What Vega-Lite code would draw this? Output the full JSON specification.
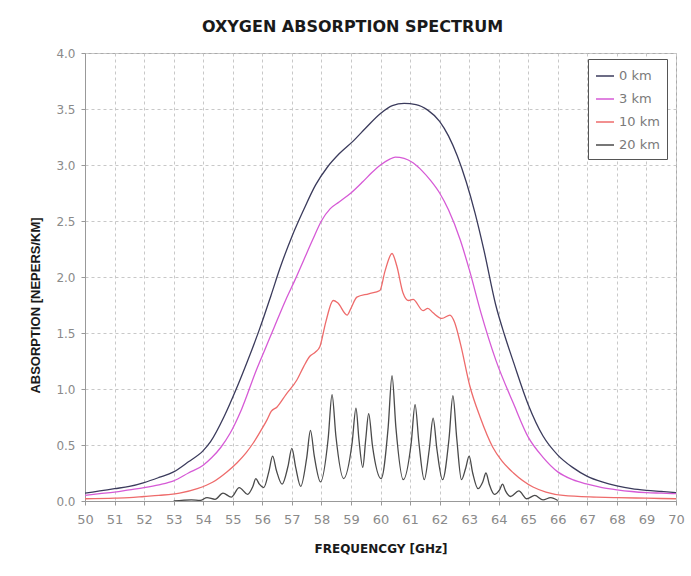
{
  "$schema": "https://vega.github.io/schema/vega-lite/v6.json",
  "width": 591,
  "height": 448,
  "autosize": {"type": "none"},
  "padding": {"left": 85, "top": 53, "right": 15, "bottom": 75},
  "background": "white",
  "title": {
    "text": "OXYGEN ABSORPTION SPECTRUM",
    "font": "DejaVu Sans",
    "fontSize": 16,
    "fontWeight": "bold",
    "color": "#1a1a1a",
    "anchor": "middle",
    "baseline": "alphabetic",
    "offset": 20,
    "dx": -28,
    "dy": 21
  },
  "config": {
    "view": {"stroke": "#aaaaaa", "strokeWidth": 1},
    "axis": {
      "gridColor": "#c8c8c8",
      "gridDash": [3, 3],
      "gridWidth": 1,
      "domainColor": "#999999",
      "tickColor": "#999999",
      "tickSize": 4,
      "labelColor": "#8a8a8a",
      "labelFont": "DejaVu Sans",
      "labelFontSize": 12,
      "labelFlush": false,
      "titleFont": "DejaVu Sans",
      "titleFontSize": 12,
      "titleFontWeight": "bold",
      "titleColor": "#1a1a1a"
    }
  },
  "data": {
    "values": [
      {"s": "0 km", "f": 50.0, "v": 0.07},
      {"s": "0 km", "f": 50.5, "v": 0.09},
      {"s": "0 km", "f": 51.0, "v": 0.11},
      {"s": "0 km", "f": 51.5, "v": 0.13},
      {"s": "0 km", "f": 52.0, "v": 0.165},
      {"s": "0 km", "f": 52.5, "v": 0.21},
      {"s": "0 km", "f": 53.0, "v": 0.26},
      {"s": "0 km", "f": 53.5, "v": 0.35},
      {"s": "0 km", "f": 54.0, "v": 0.45},
      {"s": "0 km", "f": 54.25, "v": 0.53},
      {"s": "0 km", "f": 54.7, "v": 0.75},
      {"s": "0 km", "f": 55.15, "v": 1.02},
      {"s": "0 km", "f": 55.5, "v": 1.25},
      {"s": "0 km", "f": 55.9, "v": 1.53},
      {"s": "0 km", "f": 56.3, "v": 1.84},
      {"s": "0 km", "f": 56.6, "v": 2.08},
      {"s": "0 km", "f": 57.0, "v": 2.36},
      {"s": "0 km", "f": 57.4, "v": 2.6},
      {"s": "0 km", "f": 57.8, "v": 2.82},
      {"s": "0 km", "f": 58.2, "v": 2.98},
      {"s": "0 km", "f": 58.6, "v": 3.1},
      {"s": "0 km", "f": 59.1, "v": 3.22},
      {"s": "0 km", "f": 59.5, "v": 3.33},
      {"s": "0 km", "f": 60.0, "v": 3.46},
      {"s": "0 km", "f": 60.4, "v": 3.53},
      {"s": "0 km", "f": 60.8, "v": 3.55},
      {"s": "0 km", "f": 61.2, "v": 3.54},
      {"s": "0 km", "f": 61.6, "v": 3.49},
      {"s": "0 km", "f": 62.0, "v": 3.39},
      {"s": "0 km", "f": 62.3, "v": 3.26},
      {"s": "0 km", "f": 62.6, "v": 3.08},
      {"s": "0 km", "f": 62.9, "v": 2.85},
      {"s": "0 km", "f": 63.2, "v": 2.57},
      {"s": "0 km", "f": 63.5, "v": 2.24},
      {"s": "0 km", "f": 63.9, "v": 1.75},
      {"s": "0 km", "f": 64.2, "v": 1.48},
      {"s": "0 km", "f": 64.5, "v": 1.24},
      {"s": "0 km", "f": 65.0, "v": 0.86},
      {"s": "0 km", "f": 65.5, "v": 0.58},
      {"s": "0 km", "f": 66.0, "v": 0.41},
      {"s": "0 km", "f": 66.5, "v": 0.3},
      {"s": "0 km", "f": 67.0, "v": 0.22},
      {"s": "0 km", "f": 67.5, "v": 0.17},
      {"s": "0 km", "f": 68.0, "v": 0.135},
      {"s": "0 km", "f": 68.5, "v": 0.11},
      {"s": "0 km", "f": 69.0, "v": 0.095},
      {"s": "0 km", "f": 69.5, "v": 0.085},
      {"s": "0 km", "f": 70.0, "v": 0.075},

      {"s": "3 km", "f": 50.0, "v": 0.05},
      {"s": "3 km", "f": 50.5, "v": 0.065},
      {"s": "3 km", "f": 51.0, "v": 0.08},
      {"s": "3 km", "f": 51.5, "v": 0.1},
      {"s": "3 km", "f": 52.0, "v": 0.12},
      {"s": "3 km", "f": 52.5, "v": 0.145},
      {"s": "3 km", "f": 53.0, "v": 0.18},
      {"s": "3 km", "f": 53.5, "v": 0.25},
      {"s": "3 km", "f": 54.0, "v": 0.32},
      {"s": "3 km", "f": 54.3, "v": 0.39},
      {"s": "3 km", "f": 54.6, "v": 0.48},
      {"s": "3 km", "f": 54.9, "v": 0.6},
      {"s": "3 km", "f": 55.3, "v": 0.82},
      {"s": "3 km", "f": 55.8, "v": 1.17},
      {"s": "3 km", "f": 56.1, "v": 1.36},
      {"s": "3 km", "f": 56.4, "v": 1.55},
      {"s": "3 km", "f": 56.8, "v": 1.8},
      {"s": "3 km", "f": 57.1, "v": 1.97},
      {"s": "3 km", "f": 57.4, "v": 2.15},
      {"s": "3 km", "f": 57.7, "v": 2.33},
      {"s": "3 km", "f": 58.0, "v": 2.5},
      {"s": "3 km", "f": 58.3, "v": 2.61},
      {"s": "3 km", "f": 58.6, "v": 2.67},
      {"s": "3 km", "f": 59.0, "v": 2.75},
      {"s": "3 km", "f": 59.4, "v": 2.85},
      {"s": "3 km", "f": 59.7, "v": 2.93},
      {"s": "3 km", "f": 60.0, "v": 3.0},
      {"s": "3 km", "f": 60.3, "v": 3.05},
      {"s": "3 km", "f": 60.5, "v": 3.07},
      {"s": "3 km", "f": 60.8, "v": 3.06},
      {"s": "3 km", "f": 61.1, "v": 3.02},
      {"s": "3 km", "f": 61.4, "v": 2.95},
      {"s": "3 km", "f": 61.7, "v": 2.86},
      {"s": "3 km", "f": 62.0, "v": 2.75},
      {"s": "3 km", "f": 62.3, "v": 2.6},
      {"s": "3 km", "f": 62.7, "v": 2.33},
      {"s": "3 km", "f": 63.0, "v": 2.07},
      {"s": "3 km", "f": 63.4, "v": 1.68},
      {"s": "3 km", "f": 63.9, "v": 1.26},
      {"s": "3 km", "f": 64.5, "v": 0.87},
      {"s": "3 km", "f": 65.0, "v": 0.57},
      {"s": "3 km", "f": 65.5, "v": 0.39},
      {"s": "3 km", "f": 66.0, "v": 0.26},
      {"s": "3 km", "f": 66.5, "v": 0.19},
      {"s": "3 km", "f": 67.0, "v": 0.15},
      {"s": "3 km", "f": 67.5, "v": 0.12},
      {"s": "3 km", "f": 68.0, "v": 0.1},
      {"s": "3 km", "f": 68.5, "v": 0.085},
      {"s": "3 km", "f": 69.0, "v": 0.075},
      {"s": "3 km", "f": 69.5, "v": 0.07},
      {"s": "3 km", "f": 70.0, "v": 0.065},

      {"s": "10 km", "f": 50.0, "v": 0.02},
      {"s": "10 km", "f": 51.0, "v": 0.025},
      {"s": "10 km", "f": 51.5, "v": 0.03},
      {"s": "10 km", "f": 52.0, "v": 0.04},
      {"s": "10 km", "f": 52.5, "v": 0.05},
      {"s": "10 km", "f": 53.2, "v": 0.07},
      {"s": "10 km", "f": 53.8, "v": 0.11},
      {"s": "10 km", "f": 54.33, "v": 0.17},
      {"s": "10 km", "f": 54.8, "v": 0.26},
      {"s": "10 km", "f": 55.14, "v": 0.34},
      {"s": "10 km", "f": 55.45, "v": 0.43},
      {"s": "10 km", "f": 55.7, "v": 0.52},
      {"s": "10 km", "f": 56.0, "v": 0.65},
      {"s": "10 km", "f": 56.15, "v": 0.72},
      {"s": "10 km", "f": 56.3, "v": 0.8},
      {"s": "10 km", "f": 56.5, "v": 0.84},
      {"s": "10 km", "f": 56.8, "v": 0.95},
      {"s": "10 km", "f": 57.17, "v": 1.08},
      {"s": "10 km", "f": 57.4, "v": 1.2},
      {"s": "10 km", "f": 57.6, "v": 1.29},
      {"s": "10 km", "f": 57.8, "v": 1.33},
      {"s": "10 km", "f": 57.95, "v": 1.38},
      {"s": "10 km", "f": 58.15, "v": 1.6},
      {"s": "10 km", "f": 58.4, "v": 1.79},
      {"s": "10 km", "f": 58.55, "v": 1.77},
      {"s": "10 km", "f": 58.87, "v": 1.66},
      {"s": "10 km", "f": 59.0, "v": 1.72},
      {"s": "10 km", "f": 59.2, "v": 1.82},
      {"s": "10 km", "f": 59.6, "v": 1.85},
      {"s": "10 km", "f": 59.98, "v": 1.88},
      {"s": "10 km", "f": 60.15, "v": 2.05},
      {"s": "10 km", "f": 60.39, "v": 2.21},
      {"s": "10 km", "f": 60.55, "v": 2.1},
      {"s": "10 km", "f": 60.76, "v": 1.86},
      {"s": "10 km", "f": 60.95, "v": 1.79},
      {"s": "10 km", "f": 61.1, "v": 1.8},
      {"s": "10 km", "f": 61.44, "v": 1.7},
      {"s": "10 km", "f": 61.6, "v": 1.72},
      {"s": "10 km", "f": 61.78, "v": 1.68},
      {"s": "10 km", "f": 62.08, "v": 1.63},
      {"s": "10 km", "f": 62.35, "v": 1.66},
      {"s": "10 km", "f": 62.5, "v": 1.6},
      {"s": "10 km", "f": 62.7, "v": 1.41},
      {"s": "10 km", "f": 63.03, "v": 1.02},
      {"s": "10 km", "f": 63.37, "v": 0.75},
      {"s": "10 km", "f": 63.8, "v": 0.48},
      {"s": "10 km", "f": 64.1, "v": 0.36},
      {"s": "10 km", "f": 64.5, "v": 0.25},
      {"s": "10 km", "f": 65.16, "v": 0.125},
      {"s": "10 km", "f": 65.6, "v": 0.08},
      {"s": "10 km", "f": 66.18, "v": 0.05},
      {"s": "10 km", "f": 67.3, "v": 0.035},
      {"s": "10 km", "f": 68.0, "v": 0.03},
      {"s": "10 km", "f": 69.0, "v": 0.025},
      {"s": "10 km", "f": 70.0, "v": 0.02},

      {"s": "20 km", "f": 53.0, "v": 0.0},
      {"s": "20 km", "f": 53.6, "v": 0.01},
      {"s": "20 km", "f": 53.9, "v": 0.005},
      {"s": "20 km", "f": 54.13, "v": 0.03},
      {"s": "20 km", "f": 54.4, "v": 0.015},
      {"s": "20 km", "f": 54.67, "v": 0.07},
      {"s": "20 km", "f": 54.95, "v": 0.035},
      {"s": "20 km", "f": 55.22, "v": 0.12},
      {"s": "20 km", "f": 55.5, "v": 0.06},
      {"s": "20 km", "f": 55.68, "v": 0.13},
      {"s": "20 km", "f": 55.78, "v": 0.2},
      {"s": "20 km", "f": 55.9, "v": 0.15},
      {"s": "20 km", "f": 56.05, "v": 0.12},
      {"s": "20 km", "f": 56.22, "v": 0.26},
      {"s": "20 km", "f": 56.35, "v": 0.4},
      {"s": "20 km", "f": 56.48, "v": 0.27},
      {"s": "20 km", "f": 56.67, "v": 0.15},
      {"s": "20 km", "f": 56.87, "v": 0.31},
      {"s": "20 km", "f": 57.0, "v": 0.47},
      {"s": "20 km", "f": 57.13, "v": 0.3},
      {"s": "20 km", "f": 57.3, "v": 0.13},
      {"s": "20 km", "f": 57.5, "v": 0.38},
      {"s": "20 km", "f": 57.63, "v": 0.63},
      {"s": "20 km", "f": 57.76, "v": 0.4},
      {"s": "20 km", "f": 57.97, "v": 0.17},
      {"s": "20 km", "f": 58.23, "v": 0.56},
      {"s": "20 km", "f": 58.36, "v": 0.95},
      {"s": "20 km", "f": 58.49, "v": 0.58},
      {"s": "20 km", "f": 58.75, "v": 0.2},
      {"s": "20 km", "f": 59.04, "v": 0.52},
      {"s": "20 km", "f": 59.17, "v": 0.83},
      {"s": "20 km", "f": 59.27, "v": 0.55},
      {"s": "20 km", "f": 59.4, "v": 0.3},
      {"s": "20 km", "f": 59.5, "v": 0.55},
      {"s": "20 km", "f": 59.6, "v": 0.78},
      {"s": "20 km", "f": 59.73, "v": 0.49},
      {"s": "20 km", "f": 60.02, "v": 0.2},
      {"s": "20 km", "f": 60.26, "v": 0.66},
      {"s": "20 km", "f": 60.39, "v": 1.12},
      {"s": "20 km", "f": 60.52, "v": 0.66},
      {"s": "20 km", "f": 60.77, "v": 0.19},
      {"s": "20 km", "f": 61.04, "v": 0.52},
      {"s": "20 km", "f": 61.17, "v": 0.86},
      {"s": "20 km", "f": 61.3, "v": 0.52},
      {"s": "20 km", "f": 61.48, "v": 0.19},
      {"s": "20 km", "f": 61.65, "v": 0.46},
      {"s": "20 km", "f": 61.78, "v": 0.74},
      {"s": "20 km", "f": 61.91, "v": 0.46},
      {"s": "20 km", "f": 62.1, "v": 0.19},
      {"s": "20 km", "f": 62.32, "v": 0.56},
      {"s": "20 km", "f": 62.45, "v": 0.94},
      {"s": "20 km", "f": 62.58, "v": 0.56},
      {"s": "20 km", "f": 62.74, "v": 0.19},
      {"s": "20 km", "f": 62.88, "v": 0.29},
      {"s": "20 km", "f": 63.0, "v": 0.4},
      {"s": "20 km", "f": 63.12, "v": 0.25},
      {"s": "20 km", "f": 63.3, "v": 0.11},
      {"s": "20 km", "f": 63.46, "v": 0.17},
      {"s": "20 km", "f": 63.57, "v": 0.25},
      {"s": "20 km", "f": 63.68, "v": 0.15},
      {"s": "20 km", "f": 63.85, "v": 0.06},
      {"s": "20 km", "f": 64.03, "v": 0.1},
      {"s": "20 km", "f": 64.13, "v": 0.15},
      {"s": "20 km", "f": 64.23, "v": 0.09},
      {"s": "20 km", "f": 64.4, "v": 0.04},
      {"s": "20 km", "f": 64.68, "v": 0.09},
      {"s": "20 km", "f": 64.95, "v": 0.02},
      {"s": "20 km", "f": 65.22, "v": 0.05},
      {"s": "20 km", "f": 65.5, "v": 0.01},
      {"s": "20 km", "f": 65.76, "v": 0.03},
      {"s": "20 km", "f": 66.0, "v": 0.005}
    ]
  },
  "mark": {"type": "line", "interpolate": "monotone", "strokeWidth": 1.3, "clip": true},
  "encoding": {
    "x": {
      "field": "f",
      "type": "quantitative",
      "scale": {"domain": [50, 70], "nice": false, "zero": false},
      "axis": {
        "title": "FREQUENCGY [GHz]",
        "values": [50, 51, 52, 53, 54, 55, 56, 57, 58, 59, 60, 61, 62, 63, 64, 65, 66, 67, 68, 69, 70],
        "format": "d",
        "labelPadding": 8,
        "labelFontSize": 13,
        "titleBaseline": "middle",
        "titleY": 47
      }
    },
    "y": {
      "field": "v",
      "type": "quantitative",
      "scale": {"domain": [0, 4], "nice": false},
      "axis": {
        "title": "ABSORPTION [NEPERS/KM]",
        "values": [0, 0.5, 1, 1.5, 2, 2.5, 3, 3.5, 4],
        "format": ".1f",
        "labelPadding": 6,
        "titleFont": "Liberation Sans",
        "titleFontSize": 13,
        "titleX": -50,
        "titleY": 252,
        "titleAngle": 270,
        "titleAlign": "center",
        "titleBaseline": "middle"
      }
    },
    "color": {
      "field": "s",
      "type": "nominal",
      "scale": {
        "domain": ["0 km", "3 km", "10 km", "20 km"],
        "range": ["#3b3b5c", "#d65ad6", "#ee6b6b", "#4a4a4a"]
      },
      "legend": {
        "title": null,
        "orient": "none",
        "legendX": 503,
        "legendY": 6,
        "fillColor": "white",
        "strokeColor": "#555555",
        "padding": 7,
        "rowPadding": 6,
        "symbolType": "stroke",
        "symbolSize": 324,
        "symbolStrokeWidth": 1.5,
        "labelFont": "DejaVu Sans",
        "labelFontSize": 13,
        "labelColor": "#7a7a7a",
        "labelOffset": 4
      }
    }
  }
}
